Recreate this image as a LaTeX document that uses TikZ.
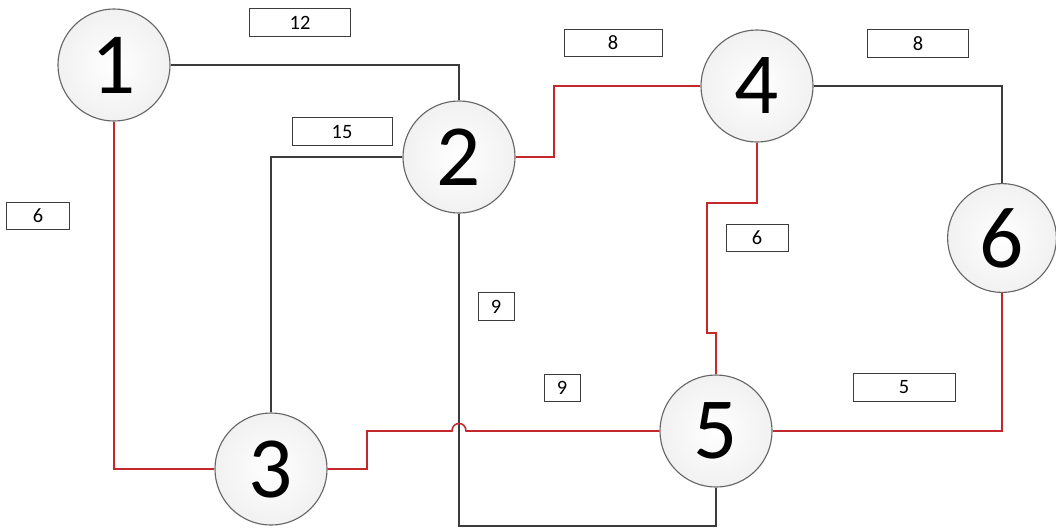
\documentclass[tikz,border=0pt]{standalone}
\usepackage{fontspec}
\setmainfont{Carlito}
\definecolor{pathred}{RGB}{196,40,44}
\definecolor{edgegray}{RGB}{60,60,60}
\tikzset{
  vertex/.style={circle,draw=gray!80!black,line width=0.8pt,inner sep=0pt,minimum size=2.8cm,
    inner color=white,outer color=gray!11,font=\fontsize{62}{62}\selectfont},
  weight/.style={draw=edgegray,line width=0.7pt,inner sep=0pt,minimum height=0.68cm,
    font=\fontsize{14.5}{14.5}\selectfont},
  blackline/.style={draw=edgegray,line width=1.1pt},
  redline/.style={draw=pathred,line width=1.1pt}
}
\begin{document}
\begin{tikzpicture}[x=0.025cm,y=-0.025cm]
  \useasboundingbox (0,0) rectangle (1056,529);
  % vertices
  \node[vertex] (n1) at (114,65) {1};
  \node[vertex] (n2) at (459,157) {2};
  \node[vertex] (n3) at (271,469) {3};
  \node[vertex] (n4) at (757,86) {4};
  \node[vertex] (n5) at (716,431) {5};
  \node[vertex,minimum size=2.72cm] (n6) at (1002,238) {6};
  % weights
  \node[weight,minimum width=2.52cm] (w12) at (300,22.5) {12};
  \node[weight,minimum width=2.5cm] (w15) at (342,131.5) {15};
  \node[weight,minimum width=1.55cm] (w13) at (38,216) {6};
  \node[weight,minimum width=2.45cm] (w24) at (613,43) {8};
  \node[weight,minimum width=2.52cm] (w46) at (918,43.5) {8};
  \node[weight,minimum width=1.55cm] (w45) at (757,238) {6};
  \node[weight,minimum width=0.9cm] (w25) at (496,306.5) {9};
  \node[weight,minimum width=0.9cm] (w35) at (562,388) {9};
  \node[weight,minimum width=2.55cm] (w56) at (904,387.5) {5};
  % edges
  \draw[blackline] (n1.east) -| (n2.north);
  \draw[redline] (n1.south) |- (n3.west);
  \draw[blackline] (n3.north) |- (n2.west);
  \draw[redline] (n2.east) -- (554,157) |- (n4.west);
  \draw[blackline] (n4.east) -| (n6.north);
  \draw[redline] (n4.south) -- (757,203) -| (707,333) -| (n5.north);
  \draw[blackline] (n2.south) -- (459,526) -| (n5.south);
  \draw[redline] (n3.east) -- (367,469) |- (452,431)
    .. controls (452,421) and (466,421) .. (466,431) -- (n5.west);
  \draw[redline] (n5.east) -| (n6.south);
\end{tikzpicture}
\end{document}
